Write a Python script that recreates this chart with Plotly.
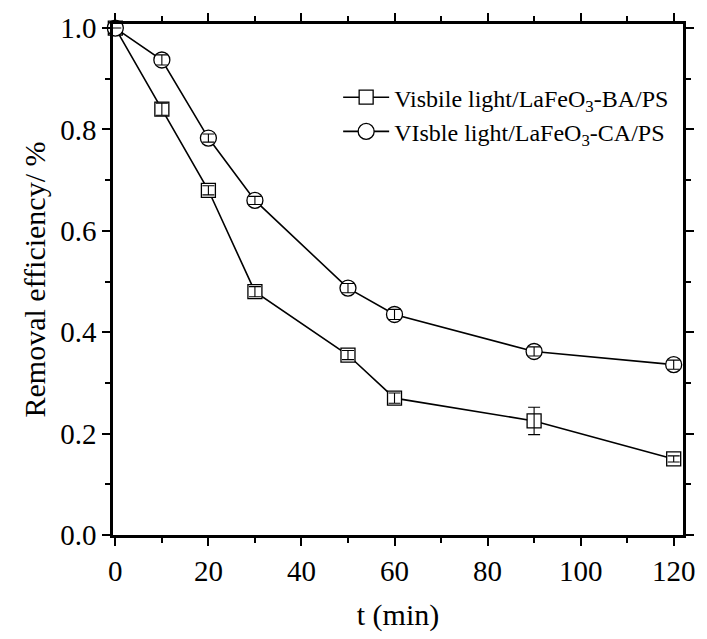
import plotly.graph_objects as go

t = [0, 10, 20, 30, 50, 60, 90, 120]
ba = [1.0, 0.84, 0.68, 0.48, 0.355, 0.27, 0.225, 0.15]
ba_err = [0.0, 0.012, 0.009, 0.01, 0.009, 0.01, 0.027, 0.006]
ca = [1.0, 0.937, 0.783, 0.66, 0.487, 0.435, 0.362, 0.336]
ca_err = [0.0, 0.01, 0.008, 0.008, 0.009, 0.01, 0.009, 0.009]

name_ba = "Visbile light/LaFeO<sub>3</sub>-BA/PS"
name_ca = "VIsble light/LaFeO<sub>3</sub>-CA/PS"

FONT = "Liberation Serif, Times New Roman, serif"

fig = go.Figure()
for y, e, sym, sz, nm in [(ba, ba_err, "square", 14, name_ba), (ca, ca_err, "circle", 16, name_ca)]:
    fig.add_trace(go.Scatter(
        x=t, y=y, mode="lines+markers", name=nm,
        line=dict(color="black", width=1.6),
        marker=dict(symbol=sym, size=sz, color="white",
                    line=dict(color="black", width=1.3)),
        cliponaxis=False,
    ))
    fig.add_trace(go.Scatter(
        x=t, y=y, mode="markers", showlegend=False, hoverinfo="skip",
        marker=dict(size=1, color="rgba(0,0,0,0)"),
        error_y=dict(type="data", array=e, color="black", thickness=1.1, width=6),
        cliponaxis=False,
    ))

axis_common = dict(
    showline=True, linecolor="black", linewidth=2.5, mirror="ticks",
    ticks="outside", ticklen=8, tickwidth=2, tickcolor="black",
    showgrid=False, zeroline=False,
    tickfont=dict(family=FONT, size=29, color="black"),
    title_font=dict(family=FONT, size=30, color="black"),
)

fig.update_xaxes(range=[-0.5, 122], tickvals=[0, 20, 40, 60, 80, 100, 120],
                 minor=dict(dtick=10, ticks="outside", ticklen=5, tickwidth=2, tickcolor="black"),
                 title_text="t (min)", title_standoff=19, **axis_common)
fig.update_yaxes(range=[0, 1.008], tickvals=[0, 0.2, 0.4, 0.6, 0.8, 1.0],
                 ticktext=["0.0", "0.2", "0.4", "0.6", "0.8", "1.0"],
                 minor=dict(dtick=0.1, ticks="outside", ticklen=5, tickwidth=2, tickcolor="black"),
                 title_text="Removal efficiency/ %", title_standoff=6, **axis_common)

fig.update_layout(
    width=707, height=639,
    margin=dict(l=113, r=15, t=23, b=97),
    plot_bgcolor="white", paper_bgcolor="white",
    font=dict(family=FONT, color="black"),
    showlegend=True,
    legend=dict(x=0.395, y=0.9, xanchor="left", yanchor="top",
                bgcolor="rgba(0,0,0,0)", borderwidth=0,
                font=dict(family=FONT, size=24, color="black"),
                itemwidth=46, tracegroupgap=0),
)

fig.write_html("out.html")
